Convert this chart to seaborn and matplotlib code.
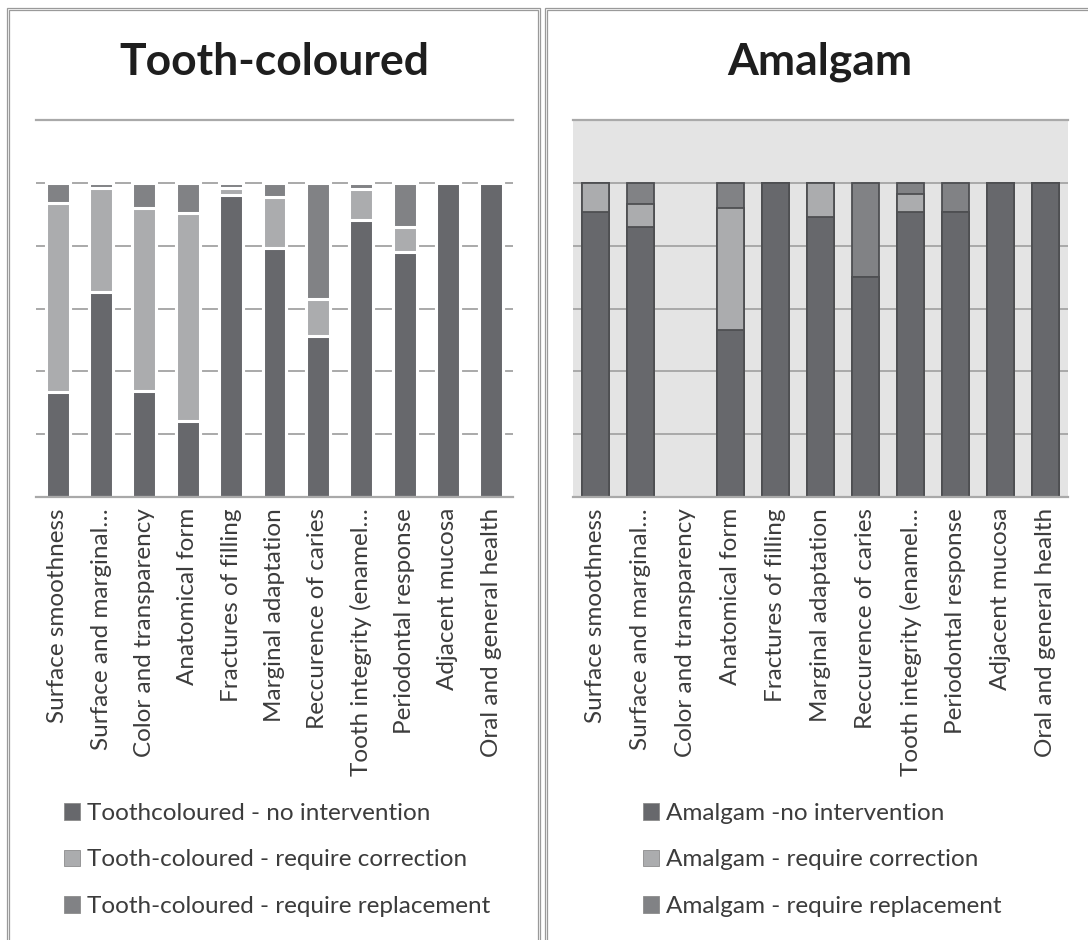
import matplotlib
matplotlib.use("Agg")
import matplotlib.pyplot as plt
import seaborn as sns
import numpy as np
from matplotlib.patches import Patch, Rectangle

categories = ["Surface smoothness", "Surface and marginal…", "Color and transparency",
              "Anatomical form", "Fractures of filling", "Marginal adaptation",
              "Reccurence of caries", "Tooth integrity (enamel…", "Periodontal response",
              "Adjacent mucosa", "Oral and general health"]

tc_none = [33.3, 65.2, 33.8, 24.2, 96.0, 79.1, 51.1, 88.1, 78.1, 100, 100]
tc_corr = [60.4, 33.3, 58.1, 66.3, 2.2, 16.4, 11.9, 9.8, 8.0, 0, 0]
tc_repl = [6.3, 1.5, 8.1, 9.5, 1.8, 4.5, 37.0, 2.1, 13.9, 0, 0]

am_none = [90.8, 86.0, 0, 53.2, 100, 89.1, 70.1, 90.8, 90.8, 100, 100]
am_corr = [9.2, 7.3, 0, 38.7, 0, 10.9, 0, 5.8, 0, 0, 0]
am_repl = [0, 6.7, 0, 8.1, 0, 0, 29.9, 3.4, 9.2, 0, 0]

tc_labels = ["Toothcoloured - no intervention", "Tooth-coloured - require correction",
             "Tooth-coloured - require replacement"]
am_labels = ["Amalgam -no intervention", "Amalgam - require correction",
             "Amalgam - require replacement"]
titles = ["Tooth-coloured", "Amalgam"]

C_NONE = "#67686c"
C_CORR = "#abacae"
C_REPL = "#818285"

sns.set_theme(style="white")
plt.rcParams["font.family"] = ["Lato", "DejaVu Sans"]

W, H = 1088, 940
fig = plt.figure(figsize=(W / 100, H / 100), dpi=100)
fig.patch.set_facecolor("white")


def px_axes(x0, x1, ytop, ybot):
    return fig.add_axes([x0 / W, 1 - ybot / H, (x1 - x0) / W, (ybot - ytop) / H])


# panel frames
for (x0, x1) in [(7, 540), (545, 1100)]:
    for off in (0, 2):
        fig.add_artist(Rectangle(((x0 + off) / W, -0.1), (x1 - x0 - 2 * off) / W,
                                 (1.1 - (8 + off) / H), transform=fig.transFigure,
                                 fill=False, ec="#9a9a9a", lw=0.9))

panels = [
    dict(ax=px_axes(36, 513, 120, 497), none=tc_none, corr=tc_corr, repl=tc_repl,
         labels=tc_labels, width=0.55, ec="white", lw=2.2, bg="white",
         title_x=274, leg_x=64),
    dict(ax=px_axes(573, 1068, 120, 497), none=am_none, corr=am_corr, repl=am_repl,
         labels=am_labels, width=0.6, ec="#4e4f52", lw=1.3, bg="#e4e4e4",
         title_x=820, leg_x=643),
]

for i, p in enumerate(panels):
    ax = p["ax"]
    ax.set_facecolor(p["bg"])
    none = np.array(p["none"]) / 100
    corr = np.array(p["corr"]) / 100
    repl = np.array(p["repl"]) / 100
    levels = [(none + corr + repl, C_REPL), (none + corr, C_CORR), (none, C_NONE)]
    for vals, col in levels:
        sns.barplot(x=categories, y=vals, order=categories, color=col, saturation=1,
                    width=p["width"], edgecolor=p["ec"], linewidth=p["lw"],
                    errorbar=None, ax=ax)
    ax.set_ylim(0, 1.2)
    ax.set_xlim(-0.5, len(categories) - 0.5)
    ax.set_yticks(np.arange(0, 1.21, 0.2))
    ax.set_yticklabels([])
    ax.set_axisbelow(True)
    ax.yaxis.grid(True, color="#a9a9a9", lw=1.4)
    ax.xaxis.grid(False)
    for s in ("left", "right"):
        ax.spines[s].set_visible(False)
    for s in ("top", "bottom"):
        ax.spines[s].set_visible(True)
        ax.spines[s].set_color("#a9a9a9")
        ax.spines[s].set_linewidth(1.6)
    ax.tick_params(axis="both", length=0)
    ax.tick_params(axis="x", pad=8)
    ax.set_xticks(range(len(categories)))
    ax.set_xticklabels(categories, rotation=90, ha="center", va="top",
                       fontsize=17.5, color="#3c3c3c")
    ax.set_xlabel("")
    ax.set_ylabel("")

    fig.text(p["title_x"] / W, 1 - 62 / H, titles[i], ha="center", va="center",
             fontsize=32, fontweight="bold", color="#1e1e1e")

    handles = [Patch(facecolor=c, edgecolor="#8c8c8c", lw=0.6)
               for c in (C_NONE, C_CORR, C_REPL)]
    fig.legend(handles, p["labels"], loc="center left",
               bbox_to_anchor=(p["leg_x"] / W, 1 - 860 / H),
               frameon=False, fontsize=17.5, labelcolor="#3c3c3c",
               handlelength=0.65, handleheight=0.65, handletextpad=0.3,
               labelspacing=1.05, borderpad=0, borderaxespad=0)

fig.savefig("out.png", dpi=100, facecolor="white")
